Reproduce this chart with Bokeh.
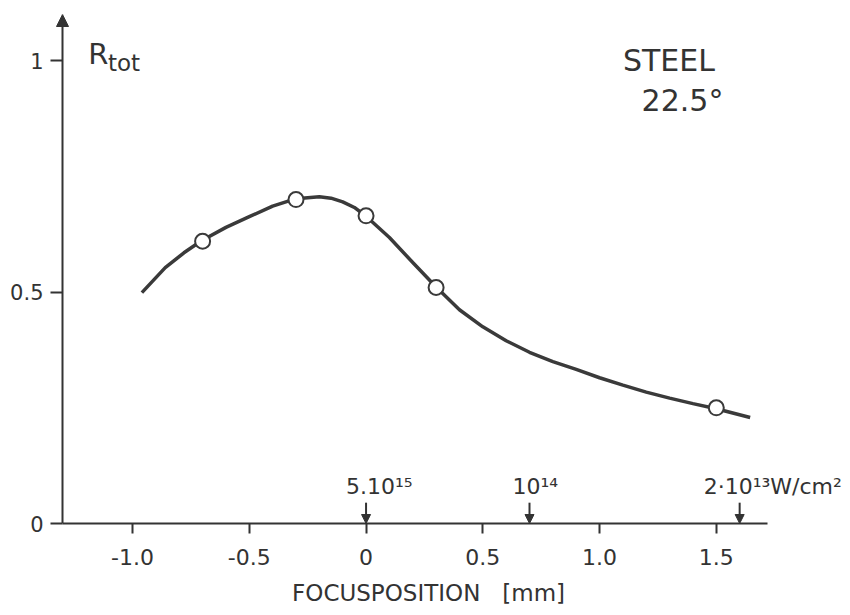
from bokeh.plotting import figure
from bokeh.models import (Arrow, NormalHead, Label, LabelSet, ColumnDataSource,
                          FixedTicker)
from bokeh.core.properties import value
from bokeh.embed import file_html
from bokeh.resources import INLINE

# ---- data ----
meas_x = [-0.7, -0.3, 0.0, 0.3, 1.5]
meas_y = [0.61, 0.70, 0.665, 0.51, 0.25]

curve_x = [-0.96, -0.86, -0.78, -0.705, -0.6, -0.5, -0.4, -0.3, -0.2, -0.15,
           -0.1, -0.05, 0.0, 0.1, 0.2, 0.3, 0.4, 0.5, 0.6, 0.7, 0.8, 0.9, 1.0,
           1.1, 1.2, 1.3, 1.4, 1.5, 1.645]
curve_y = [0.499, 0.553, 0.585, 0.611, 0.640, 0.663, 0.686, 0.702, 0.706, 0.703,
           0.695, 0.683, 0.664, 0.618, 0.564, 0.511, 0.462, 0.425, 0.395, 0.370,
           0.350, 0.333, 0.315, 0.299, 0.284, 0.271, 0.259, 0.248, 0.229]

intens_x = [0.0, 0.7, 1.6]
intens_labels = ["5.10\u00b9\u2075", "10\u00b9\u2074", "2\u00b710\u00b9\u00b3W/cm\u00b2"]

x_ticks = [-1.0, -0.5, 0.0, 0.5, 1.0, 1.5]
x_tick_labels = ["-1.0", "-0.5", "0", "0.5", "1.0", "1.5"]
y_ticks = [0.0, 0.5, 1.0]
y_tick_labels = ["0", "0.5", "1"]

# ---- styling ----
INK = "#333333"
FONT = "DejaVu Sans"
label_offsets = [-20, -17, -36]
AX_X = -1.3      # where the y axis stands
AX_TOP = 1.10    # tip of the y axis arrow

p = figure(width=850, height=615, x_range=(-1.3514, 2.0747), y_range=(0, AX_TOP),
           output_backend="svg", toolbar_location=None, title=None,
           min_border_left=50, min_border_right=0, min_border_top=14,
           min_border_bottom=92)
p.outline_line_color = None
p.grid.visible = False
p.background_fill_color = "white"
p.border_fill_color = "white"

for ax in (p.xaxis[0], p.yaxis[0]):
    ax.axis_line_color = INK
    ax.axis_line_width = 2
    ax.major_tick_line_color = INK
    ax.major_tick_line_width = 2
    ax.minor_tick_line_color = None
    ax.major_label_text_font = FONT
    ax.major_label_text_color = INK

p.xaxis.bounds = (AX_X, 1.72)
p.xaxis.ticker = FixedTicker(ticks=x_ticks)
p.xaxis.major_label_overrides = {t: l for t, l in zip(x_ticks, x_tick_labels)}
p.xaxis.major_label_text_font_size = "22px"
p.xaxis.major_tick_in = 0
p.xaxis.major_tick_out = 10
p.xaxis.major_label_standoff = 15
p.xaxis.axis_label = "FOCUSPOSITION\u00a0\u00a0\u00a0[mm]" + "\u00a0" * 6
p.xaxis.axis_label_text_font = FONT
p.xaxis.axis_label_text_font_size = "23px"
p.xaxis.axis_label_text_font_style = "normal"
p.xaxis.axis_label_text_color = INK
p.xaxis.axis_label_standoff = 12

# y axis: labels and ticks from the axis at the frame edge, ticks reach the axis line
p.yaxis.axis_line_color = None
p.yaxis.ticker = FixedTicker(ticks=y_ticks)
p.yaxis.major_label_overrides = {t: l for t, l in zip(y_ticks, y_tick_labels)}
p.yaxis.major_label_text_font_size = "21px"
p.yaxis.major_tick_in = 12
p.yaxis.major_tick_out = 0
p.yaxis.major_label_standoff = 7

# y axis line with arrow head
p.add_layout(Arrow(end=NormalHead(size=12, fill_color=INK, line_color=INK),
                   x_start=AX_X, y_start=0.0, x_end=AX_X, y_end=AX_TOP,
                   line_color=INK, line_width=2))

# curve and measured points
p.line(curve_x, curve_y, line_color="#3a3a3a", line_width=3.5)
p.scatter(meas_x, meas_y, size=15, marker="circle", fill_color="white",
          line_color="#3a3a3a", line_width=2)

# intensity markers
isrc = ColumnDataSource(dict(x=intens_x, y0=[0.045] * len(intens_x),
                             y1=[0.0] * len(intens_x), text=intens_labels,
                             ty=[0.064] * len(intens_x), off=label_offsets))
p.add_layout(Arrow(end=NormalHead(size=9, fill_color=INK, line_color=INK),
                   x_start="x", y_start="y0", x_end="x", y_end="y1",
                   source=isrc, line_color=INK, line_width=2))
p.add_layout(LabelSet(x="x", y="ty", text="text", x_offset="off", source=isrc,
                      text_font=value(FONT), text_font_size="22px",
                      text_color=INK, text_align="left",
                      text_baseline="alphabetic"))

# annotations
p.add_layout(Label(x=-1.19, y=1.015, text="R", text_font=FONT,
                   text_font_size="29px", text_color=INK,
                   text_baseline="alphabetic"))
p.add_layout(Label(x=-1.105, y=0.996, text="tot", text_font=FONT,
                   text_font_size="23px", text_color=INK,
                   text_baseline="alphabetic"))
p.add_layout(Label(x=1.10, y=1.0, text="STEEL", text_font=FONT,
                   text_font_size="30px", text_color=INK,
                   text_baseline="alphabetic"))
p.add_layout(Label(x=1.18, y=0.914, text="22.5\u00b0", text_font=FONT,
                   text_font_size="30px", text_color=INK,
                   text_baseline="alphabetic"))

open("out.html", "w").write(file_html(p, INLINE))
